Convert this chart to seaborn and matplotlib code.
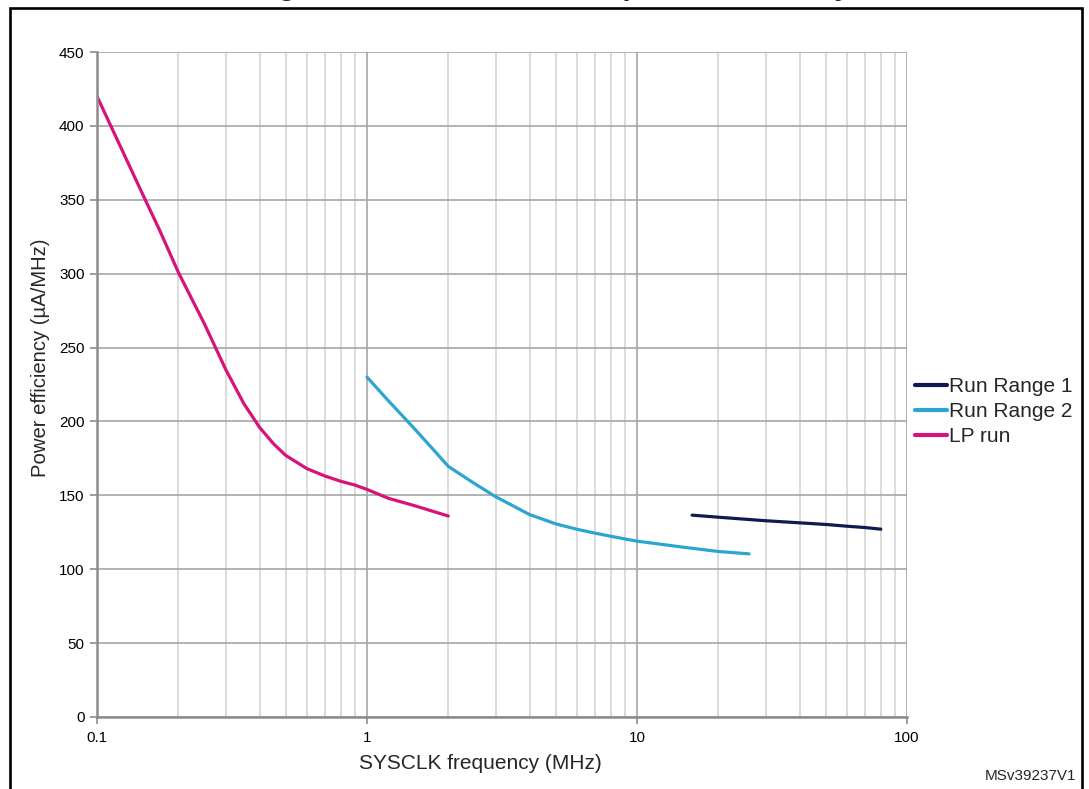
import matplotlib
matplotlib.use("Agg")
import matplotlib.pyplot as plt
from matplotlib.patches import Rectangle
from matplotlib.ticker import LogLocator, NullFormatter, FixedLocator, FixedFormatter
import seaborn as sns
import pandas as pd

# ---- data ----
lp_freq = [0.1, 0.12, 0.15, 0.17, 0.2, 0.25, 0.3, 0.35, 0.4, 0.45, 0.5, 0.6, 0.7, 0.8, 0.9, 1.0, 1.2, 1.5, 2.0]
lp_eff = [420, 389, 351, 330, 301, 266, 235, 212, 196, 185, 177, 168, 163, 159.5, 157, 154, 148, 143, 136]

r2_freq = [1, 1.2, 1.5, 1.75, 2, 2.5, 3, 4, 5, 6, 7, 8, 9, 10, 15, 20, 26]
r2_eff = [230, 214, 195, 181.5, 169.6, 158, 149, 137, 130.7, 127, 124.4, 122.3, 120.5, 119, 114.8, 112, 110.4]

r1_freq = [16, 20, 30, 40, 50, 60, 70, 80]
r1_eff = [136.6, 135.2, 132.8, 131.4, 130.3, 129.1, 128.2, 127.1]

series_names = ["Run Range 1", "Run Range 2", "LP run"]
series_colors = ["#0e1a50", "#2ba6d1", "#d6137b"]

y_ticks = [0, 50, 100, 150, 200, 250, 300, 350, 400, 450]
x_ticks = [0.1, 1, 10, 100]
x_tick_labels = ["0.1", "1", "10", "100"]

df = pd.concat([
    pd.DataFrame({"freq": r1_freq, "eff": r1_eff, "series": series_names[0]}),
    pd.DataFrame({"freq": r2_freq, "eff": r2_eff, "series": series_names[1]}),
    pd.DataFrame({"freq": lp_freq, "eff": lp_eff, "series": series_names[2]}),
], ignore_index=True)

sns.set_style("white")
plt.rcParams["font.family"] = ["Liberation Sans", "DejaVu Sans"]

W, H = 1089, 789
fig = plt.figure(figsize=(W / 100, H / 100), dpi=100)
ax = fig.add_axes([97 / W, 1 - 717 / H, (907 - 97) / W, (717 - 52) / H])

sns.lineplot(data=df, x="freq", y="eff", hue="series", hue_order=series_names,
             palette=dict(zip(series_names, series_colors)), linewidth=2.3,
             sort=True, estimator=None, ax=ax)

ax.set_xscale("log")
ax.set_xlim(0.1, 100)
ax.set_ylim(0, 450)

ax.xaxis.set_major_locator(FixedLocator(x_ticks))
ax.xaxis.set_major_formatter(FixedFormatter(x_tick_labels))
ax.xaxis.set_minor_locator(LogLocator(base=10, subs=range(2, 10)))
ax.xaxis.set_minor_formatter(NullFormatter())
ax.set_yticks(y_ticks)

ax.grid(True, which="major", axis="both", color="#a6a6a6", linewidth=1.2)
ax.grid(True, which="minor", axis="x", color="#d4d4d4", linewidth=1.2)
ax.set_axisbelow(True)

for side in ["top", "right"]:
    ax.spines[side].set_visible(False)
for side in ["left", "bottom"]:
    ax.spines[side].set_color("#8c8c8c")
    ax.spines[side].set_linewidth(1.8)

ax.tick_params(axis="both", which="major", direction="out", length=5, width=1.2,
               color="#8c8c8c", labelsize=11, labelcolor="black", pad=4)
ax.tick_params(axis="x", which="minor", length=0)
ax.tick_params(axis="x", which="major", pad=5)
ax.tick_params(axis="y", left=True)
ax.tick_params(axis="x", bottom=True)

ax.set_xlabel("SYSCLK frequency (MHz)", fontsize=15)
ax.set_ylabel("Power efficiency (µA/MHz)", fontsize=14.6)
ax.xaxis.set_label_coords((480 - 97) / 810, -0.055)
ax.yaxis.set_label_coords((50 - 97) / 810, (717 - 358) / 665)

leg = ax.legend(loc="upper left", bbox_to_anchor=(1.0, 0.524), frameon=False,
                fontsize=15, handlelength=1.5, handletextpad=0.1,
                borderaxespad=0.0, labelspacing=0.3)
for line in leg.get_lines():
    line.set_linewidth(3)

# page decoration: border frame, clipped figure caption, drawing code
fig.patches.append(Rectangle((10 / W, -0.05), (1082 - 10) / W, 1.05 - 8 / H,
                             transform=fig.transFigure, fill=False,
                             edgecolor="black", linewidth=1.9, zorder=10))
fig.text(252 / W, 1.0 + 5.0 / H, "Figure 17. Run and LP run power efficiency",
         ha="left", va="baseline", fontsize=21, fontweight="bold")
fig.text(1076 / W, 1 - 783 / H, "MSv39237V1", ha="right", va="bottom", fontsize=11)

fig.savefig("out.png", dpi=100)
